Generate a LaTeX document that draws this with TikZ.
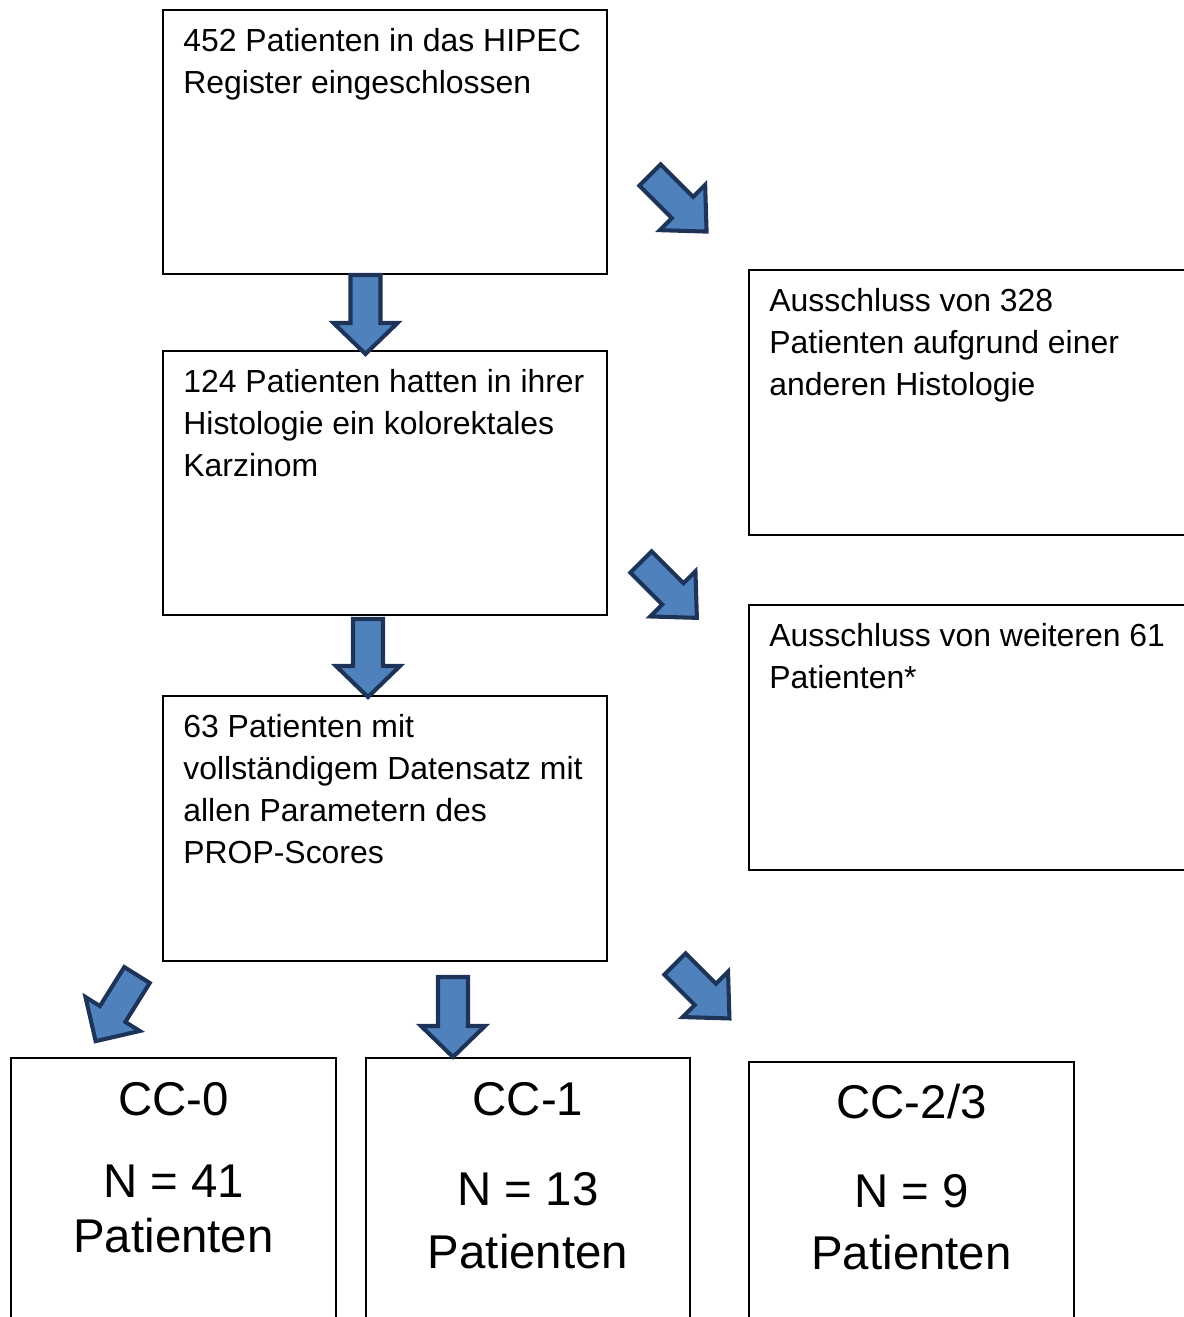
\documentclass[tikz,border=0pt]{standalone}
\usepackage{fontspec}
\setmainfont{Liberation Sans}
\usepackage{tikz}
\usetikzlibrary{positioning}
\definecolor{arrowblue}{RGB}{79,129,189}
\definecolor{arrowedge}{RGB}{29,52,88}

\begin{document}
\begin{tikzpicture}[x=0.025cm, y=-0.025cm,
  panel/.style={draw, line width=1.2pt, inner sep=0pt},
  boxtext/.style={anchor=base west, align=left, inner sep=0pt, font=\fontsize{22.7}{29.9}\selectfont},
  bigtext/.style={anchor=base, inner sep=0pt, font=\fontsize{33.7}{40}\selectfont},
  pics/blockarrow/.style 2 args={code={
    \draw[fill=arrowblue, draw=arrowedge, line width=2.9pt, line join=miter]
      (0,-15) -- (#1,-15) -- (#1,-32) -- ({#1+#2},0) -- (#1,32) -- (#1,15) -- (0,15) -- cycle;
  }}
]
  \useasboundingbox (0,0) rectangle (1184,1317);
  \clip (0,0) rectangle (1184,1317);

  % main column (text nodes sit on the baseline of their last line)
  \node[panel, minimum width=11.1cm, minimum height=6.6cm] (reg) at (385,142) {};
  \node[boxtext] (regtext) at ([shift={(0.525cm,-2.1cm)}]reg.north west)
    {452 Patienten in das HIPEC\\Register eingeschlossen};
  \node[panel, minimum width=11.1cm, minimum height=6.6cm] (kolo) at (385,483) {};
  \node[boxtext] (kolotext) at ([shift={(0.525cm,-3.15cm)}]kolo.north west)
    {124 Patienten hatten in ihrer\\Histologie ein kolorektales\\Karzinom};
  \node[panel, minimum width=11.1cm, minimum height=6.625cm] (komplett) at (385,828.5) {};
  \node[boxtext] (kompletttext) at ([shift={(0.525cm,-4.2cm)}]komplett.north west)
    {63 Patienten mit\\vollständigem Datensatz mit\\allen Parametern des\\PROP-Scores};

  % exclusions
  \node[panel, minimum width=12.525cm, minimum height=6.625cm] (ausA) at (999.5,402.5) {};
  \node[boxtext] (ausAtext) at ([shift={(0.525cm,-3.15cm)}]ausA.north west)
    {Ausschluss von 328\\Patienten aufgrund einer\\anderen Histologie};
  \node[panel, minimum width=12.525cm, minimum height=6.625cm] (ausB) at (999.5,737.5) {};
  \node[boxtext] (ausBtext) at ([shift={(0.525cm,-2.1cm)}]ausB.north west)
    {Ausschluss von weiteren 61\\Patienten*};

  % CC groups
  \node[panel, minimum width=8.125cm, minimum height=8.55cm] (cc0) at (173.5,1229) {};
  \node[bigtext] (cc0title) at ([yshift=-1.45cm]cc0.north) {CC-0};
  \node[bigtext] (cc0n) at ([yshift=-3.5cm]cc0.north) {N = 41};
  \node[bigtext] (cc0pat) at ([yshift=-4.875cm]cc0.north) {Patienten};

  \node[panel, minimum width=8.1cm, minimum height=8.55cm] (cc1) at (528,1229) {};
  \node[bigtext] (cc1title) at ([yshift=-1.45cm]cc1.north) {CC-1};
  \node[bigtext] (cc1n) at ([yshift=-3.7cm]cc1.north) {N = 13};
  \node[bigtext] (cc1pat) at ([yshift=-5.275cm]cc1.north) {Patienten};

  \node[panel, minimum width=8.125cm, minimum height=8.45cm] (cc23) at (911.5,1231) {};
  \node[bigtext] (cc23title) at ([yshift=-1.425cm]cc23.north) {CC-2/3};
  \node[bigtext] (cc23n) at ([yshift=-3.65cm]cc23.north) {N = 9};
  \node[bigtext] (cc23pat) at ([yshift=-5.2cm]cc23.north) {Patienten};

  % block arrows
  \pic[rotate=-90] at (365.5,275) {blockarrow={48}{31}};
  \pic[rotate=-90] at (368,619) {blockarrow={47}{31}};
  \pic[rotate=-90] at (453,977) {blockarrow={49}{31}};
  \pic[rotate=-45] at (650,175) {blockarrow={46}{34}};
  \pic[rotate=-45] at (641,562) {blockarrow={45}{34}};
  \pic[rotate=-45] at (675,964) {blockarrow={43}{34}};
  \pic[rotate=-122] at (137,975) {blockarrow={46}{32}};
\end{tikzpicture}
\end{document}
